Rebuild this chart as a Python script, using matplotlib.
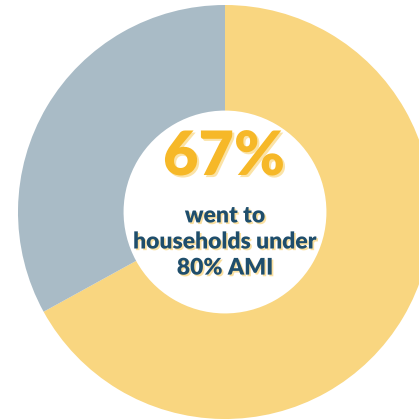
import matplotlib.pyplot as plt
import matplotlib.patheffects as pe

# share of funds
labels = ["Under 80% AMI", "Other"]
shares = [67, 33]
colors = ["#f9d680", "#a9bbc6"]

big_text = "67%"
sub_text = "went to\nhouseholds under\n80% AMI"

fig = plt.figure(figsize=(4.19, 4.20), dpi=100)
ax = fig.add_axes([0, 0, 1, 1])

# donut, yellow slice runs clockwise from the top
ax.pie(shares, colors=colors, startangle=90, counterclock=False,
       center=(225, 208), radius=207, frame=True,
       wedgeprops=dict(width=207 * 0.51, linewidth=0))
ax.set_xlim(0, 419)
ax.set_ylim(0, 420)
ax.set_aspect('equal')
ax.axis('off')

ax.text(224, 263, big_text, ha='center', va='center', fontsize=44,
        fontweight='heavy', family=['Lato', 'DejaVu Sans'], color='#f6b828',
        path_effects=[pe.withSimplePatchShadow(offset=(1.5, -1.5),
                                               shadow_rgbFace='#fbe3a6', alpha=1)])
ax.text(225, 178, sub_text, ha='center', va='center', fontsize=16.5,
        fontweight='heavy', family=['Lato', 'DejaVu Sans'], color='#1f4e6c',
        linespacing=1.3,
        path_effects=[pe.withSimplePatchShadow(offset=(1.2, -1.2),
                                               shadow_rgbFace='#fbe0a0', alpha=1)])

plt.savefig('out.png', dpi=100)
